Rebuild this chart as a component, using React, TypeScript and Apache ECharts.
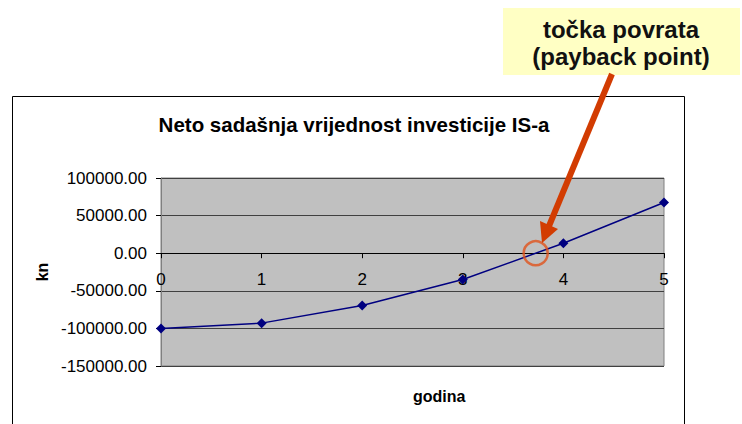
import React, { useEffect, useRef } from "react";
import * as echarts from "echarts";

const years = [0, 1, 2, 3, 4, 5];
const npv = [-100000, -93000, -69500, -35000, 13300, 67400];
const yMin = -150000;
const yMax = 100000;
const yStep = 50000;
const titleText = "Neto sadašnja vrijednost investicije IS-a";
const xName = "godina";
const yName = "kn";
const noteText = "točka povrata\n(payback point)";

const FONT = "'Liberation Sans', Arial, sans-serif";

export default function App() {
  const ref = useRef<HTMLDivElement>(null);
  useEffect(() => {
    document.body.style.margin = "0";
    const chart = echarts.init(ref.current!, undefined, { renderer: "svg" });
    // payback point: zero crossing between the last negative and first positive value
    let payback: number[] | null = null;
    for (let i = 1; i < npv.length; i++) {
      if (npv[i - 1] < 0 && npv[i] >= 0) {
        const t = -npv[i - 1] / (npv[i] - npv[i - 1]);
        payback = [years[i - 1] + t * (years[i] - years[i - 1]), 0];
      }
    }
    const arrowColor = "#d23c02";
    chart.setOption({
      animation: false,
      textStyle: { fontFamily: FONT },
      title: {
        text: titleText,
        left: 349,
        textAlign: "center",
        top: 109,
        textStyle: { fontSize: 20.5, fontWeight: "bold", color: "#000", fontFamily: FONT },
      },
      grid: {
        left: 161,
        top: 178,
        width: 503,
        height: 188,
        show: true,
        backgroundColor: "#c0c0c0",
        borderColor: "#808080",
        borderWidth: 1,
      },
      xAxis: {
        type: "value",
        position: "bottom",
        offset: 0,
        min: 0,
        max: 5,
        interval: 1,
        axisLine: { onZero: false, lineStyle: { color: "#000", width: 1 } },
        axisTick: { show: true, length: 5, lineStyle: { color: "#000" } },
        axisLabel: { fontSize: 17, color: "#000", margin: 18, fontFamily: FONT },
        splitLine: { show: false },
      },
      yAxis: {
        type: "value",
        min: yMin,
        max: yMax,
        interval: yStep,
        name: yName,
        nameLocation: "middle",
        nameGap: 110,
        nameTextStyle: { fontSize: 16, fontWeight: "bold", color: "#000", fontFamily: FONT },
        axisLine: { show: true, lineStyle: { color: "#808080" } },
        axisTick: { show: true, length: 5, lineStyle: { color: "#000" } },
        axisLabel: {
          fontSize: 17,
          color: "#000",
          margin: 14,
          fontFamily: FONT,
          formatter: (v: number) => v.toFixed(2),
        },
        splitLine: { show: true, lineStyle: { color: "#404040", width: 1 } },
      },
      series: [
        {
          type: "line",
          data: years.map((x, i) => [x, npv[i]]),
          symbol: "diamond",
          symbolSize: 10,
          showSymbol: true,
          itemStyle: { color: "#000080" },
          lineStyle: { color: "#000080", width: 1.5 },
          z: 3,
        },
        {
          type: "scatter",
          data: payback ? [payback] : [],
          symbol: "circle",
          symbolSize: 24,
          itemStyle: { color: "transparent", borderColor: "#e0531c", borderWidth: 2.5 },
          z: 5,
        },
      ],
      graphic: [
        {
          type: "rect",
          shape: { x: 12.5, y: 96.5, width: 672, height: 360 },
          style: { fill: "none", stroke: "#000", lineWidth: 1 },
          z: 0,
          silent: true,
        },
        {
          type: "text",
          left: 413,
          top: 388,
          style: { text: xName, fill: "#000", font: `bold 16px ${FONT}`, align: "center" },
        },
        {
          type: "rect",
          shape: { x: 503, y: 8, width: 237, height: 67 },
          style: { fill: "#ffffc4" },
          z: 10,
        },
        {
          type: "text",
          x: 621,
          y: 43,
          style: {
            text: noteText,
            fill: "#111",
            font: `bold 24px ${FONT}`,
            align: "center",
            verticalAlign: "middle",
            lineHeight: 27,
          },
          z: 11,
        },
        {
          type: "line",
          shape: { x1: 612, y1: 74, x2: 549, y2: 226 },
          style: { stroke: arrowColor, lineWidth: 6 },
          z: 100,
        },
        {
          type: "polygon",
          shape: { points: [[542, 243], [558, 229], [540, 221]] },
          style: { fill: arrowColor },
          z: 100,
        },
      ],
    });
    // place the x axis on the zero line of the value axis (through the library's scale)
    const yZero = chart.convertToPixel({ yAxisIndex: 0 }, 0) as number;
    const yBottom = chart.convertToPixel({ yAxisIndex: 0 }, yMin) as number;
    chart.setOption({ xAxis: { offset: -(yBottom - yZero) } });
    return () => chart.dispose();
  }, []);
  return <div ref={ref} style={{ width: 742, height: 424 }} />;
}
